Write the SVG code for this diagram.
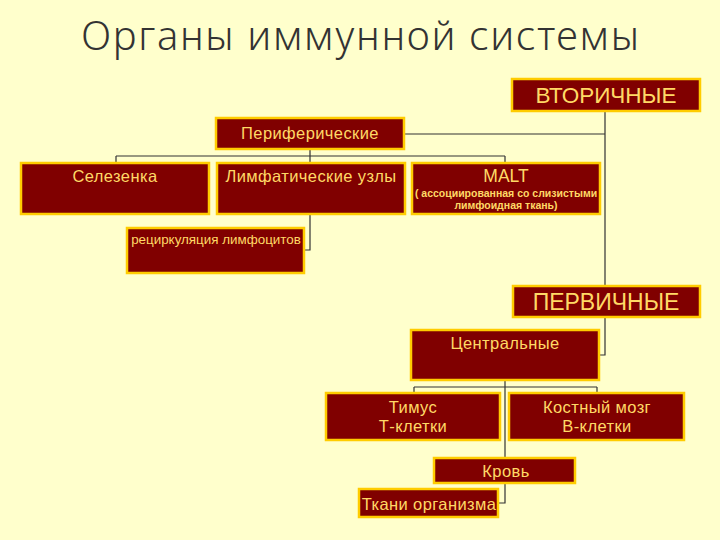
<svg xmlns="http://www.w3.org/2000/svg" width="720" height="540" viewBox="0 0 720 540">
<style>
.box{fill:#800000;stroke:#FFCC00;stroke-width:2.5}
.t{font-family:"Liberation Sans",Arial,sans-serif;fill:#FFD966;text-anchor:middle}
.m{font-size:16.5px;letter-spacing:0.4px}
.c{fill:none;stroke:#333;stroke-width:1.2}
</style>
<rect width="720" height="540" fill="#FFFFCC"/>
<text x="360" y="50" font-family="'Noto Sans','DejaVu Sans',sans-serif" font-size="40" font-weight="300" fill="#333" text-anchor="middle" textLength="558" lengthAdjust="spacing">Органы иммунной системы</text>
<g id="connectors">
<path class="c" d="M605 111V286M404 134H605"/>
<path class="c" d="M310 149V156M116 156H505M116 156V163M505 156V163M310 156V250H304"/>
<path class="c" d="M605 317V355H599"/>
<path class="c" d="M505 380V387M414 387H597M414 387V393M597 387V393M505 387V458"/>
<path class="c" d="M505 483V503H498"/>
</g>
<g id="vtorichnye"><rect class="box" x="512" y="79" width="188" height="32"/><text class="t" x="606" y="103" font-size="22.5">ВТОРИЧНЫЕ</text></g>
<g id="periferic"><rect class="box" x="216" y="118" width="188" height="31"/><text class="t m" x="310" y="139">Периферические</text></g>
<g id="selezenka"><rect class="box" x="21" y="163" width="188" height="51"/><text class="t m" x="115" y="182">Селезенка</text></g>
<g id="limf"><rect class="box" x="217" y="163" width="188" height="51"/><text class="t m" x="311" y="182">Лимфатические узлы</text></g>
<g id="malt"><rect class="box" x="412" y="163" width="188" height="51"/><text class="t" x="506" y="182" font-size="17.5">MALT</text><text class="t" x="506" y="197" font-size="10.5" font-weight="bold">( ассоциированная со слизистыми</text><text class="t" x="506" y="209" font-size="10.5" font-weight="bold">лимфоидная ткань)</text></g>
<g id="recirc"><rect class="box" x="127" y="228" width="177" height="45"/><text class="t" x="216" y="244" font-size="13.4">рециркуляция лимфоцитов</text></g>
<g id="pervichnye"><rect class="box" x="513" y="286" width="187" height="31"/><text class="t" x="606" y="310" font-size="23">ПЕРВИЧНЫЕ</text></g>
<g id="central"><rect class="box" x="411" y="330" width="188" height="50"/><text class="t m" x="505" y="349">Центральные</text></g>
<g id="timus"><rect class="box" x="326" y="393" width="174" height="47"/><text class="t m" x="413" y="413">Тимус</text><text class="t m" x="413" y="432">Т-клетки</text></g>
<g id="kostny"><rect class="box" x="509" y="393" width="175" height="47"/><text class="t m" x="597" y="413">Костный мозг</text><text class="t m" x="597" y="432">В-клетки</text></g>
<g id="krov"><rect class="box" x="434" y="458" width="141" height="25"/><text class="t m" x="506" y="477">Кровь</text></g>
<g id="tkani"><rect class="box" x="359" y="489" width="139" height="28"/><text class="t m" x="429" y="510">Ткани организма</text></g>
</svg>
